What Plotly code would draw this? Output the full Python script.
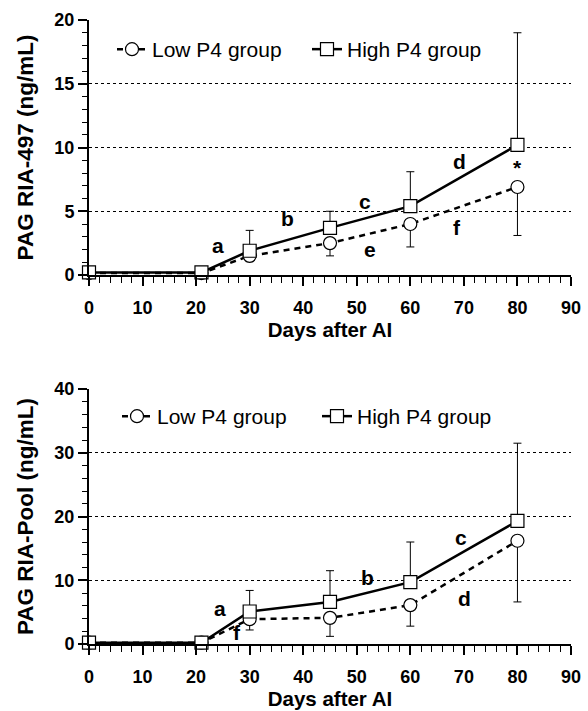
import plotly.graph_objects as go

# ---------------- data ----------------
days = [0, 21, 30, 45, 60, 80]

# top panel: PAG RIA-497
low497 = [0.15, 0.15, 1.5, 2.5, 4.0, 6.9]
low497_sd = [0, 0, 0.45, 1.0, 1.8, 3.8]
high497 = [0.2, 0.2, 1.9, 3.7, 5.4, 10.2]
high497_sd = [0, 0.3, 1.6, 1.3, 2.7, 8.8]

# bottom panel: PAG RIA-Pool
lowPool = [0.2, 0.2, 3.9, 4.1, 6.1, 16.2]
lowPool_sd = [0, 0, 1.7, 2.9, 3.3, 9.6]
highPool = [0.2, 0.2, 5.1, 6.6, 9.7, 19.3]
highPool_sd = [0, 0.3, 3.3, 4.9, 6.3, 12.2]

# significance letters
top_labels = ["a", "b", "c", "d", "e", "f", "*"]
top_lx = [24, 37, 51.5, 69.2, 52.4, 68.8, 80]
top_ly = [2.3, 4.4, 5.8, 8.9, 2.0, 3.7, 8.4]
bot_labels = ["a", "f", "b", "c", "d"]
bot_lx = [24.4, 27.6, 52, 69.5, 70.1]
bot_ly = [5.6, 1.8, 10.4, 16.7, 7.1]

W, H = 588, 711
FONT = "Liberation Sans, Arial, sans-serif"

fig = go.Figure()

def add_panel(low, low_sd, high, high_sd, xa, ya, leg):
    zeros = [0] * len(days)
    fig.add_trace(go.Scatter(
        x=days, y=low, mode="lines+markers", name="Low P4 group",
        xaxis=xa, yaxis=ya, legend=leg, cliponaxis=False,
        line=dict(color="black", width=2.5, dash="6px,5px"),
        marker=dict(symbol="circle", size=13, color="white",
                    line=dict(color="black", width=1.2)),
        error_y=dict(type="data", symmetric=False, array=zeros,
                     arrayminus=low_sd, color="black", thickness=1, width=4),
    ))
    fig.add_trace(go.Scatter(
        x=days, y=high, mode="lines+markers", name="High P4 group",
        xaxis=xa, yaxis=ya, legend=leg, cliponaxis=False,
        line=dict(color="black", width=2.5),
        marker=dict(symbol="square", size=13, color="white",
                    line=dict(color="black", width=1.2)),
        error_y=dict(type="data", symmetric=False, array=high_sd,
                     arrayminus=zeros, color="black", thickness=1, width=4),
    ))

add_panel(low497, low497_sd, high497, high497_sd, "x", "y", "legend")
add_panel(lowPool, lowPool_sd, highPool, highPool_sd, "x2", "y2", "legend2")

xdom = [89 / W, 571 / W]
ydom_top = [1 - 275 / H, 1 - 20 / H]
ydom_bot = [1 - 644 / H, 1 - 389 / H]

tickfont = dict(family=FONT, size=18, color="black", weight="bold")
titlefont = dict(family=FONT, size=20.5, color="black", weight="bold")
ytitlefont = dict(family=FONT, size=22.5, color="black", weight="bold")

def xaxis_cfg(anchor):
    return dict(
        domain=xdom, anchor=anchor, range=[0, 90], dtick=10, tick0=0,
        automargin=False,
        showline=True, linecolor="black", linewidth=2, showgrid=False,
        zeroline=False, ticks="outside", ticklen=9, tickwidth=1.6,
        tickcolor="black", tickfont=tickfont, ticklabelstandoff=6,
        minor=dict(dtick=2, ticks="outside", ticklen=6, tickwidth=1.4,
                   tickcolor="black", showgrid=False),
        title=dict(text="Days after AI", font=titlefont, standoff=6),
    )

def yaxis_cfg(anchor, dom, rng, dtick, mdtick, title):
    return dict(
        domain=dom, anchor=anchor, range=rng, dtick=dtick, tick0=0,
        automargin=False,
        showline=True, linecolor="black", linewidth=2,
        showgrid=True, gridcolor="black", gridwidth=1, griddash="dot",
        zeroline=False, ticks="outside", ticklen=9, tickwidth=1.6,
        tickcolor="black", tickfont=tickfont, ticklabelstandoff=0,
        minor=dict(dtick=mdtick, ticks="outside", ticklen=5, tickwidth=1.4,
                   tickcolor="black", showgrid=False),
        title=dict(text=title, font=ytitlefont, standoff=14),
    )

annotations = []
for t, x, y in zip(top_labels, top_lx, top_ly):
    annotations.append(dict(text=t, x=x, y=y, xref="x", yref="y",
                            showarrow=False,
                            font=dict(family=FONT, size=21, color="black",
                                      weight="bold")))
for t, x, y in zip(bot_labels, bot_lx, bot_ly):
    annotations.append(dict(text=t, x=x, y=y, xref="x2", yref="y2",
                            showarrow=False,
                            font=dict(family=FONT, size=21, color="black",
                                      weight="bold")))

legfont = dict(family=FONT, size=21, color="black")
fig.update_layout(
    width=W, height=H,
    margin=dict(l=0, r=0, t=0, b=0, autoexpand=False),
    paper_bgcolor="white", plot_bgcolor="white",
    xaxis=xaxis_cfg("y"),
    yaxis=yaxis_cfg("x", ydom_top, [0, 20], 5, 1, "PAG RIA-497 (ng/mL)"),
    xaxis2=xaxis_cfg("y2"),
    yaxis2=yaxis_cfg("x2", ydom_bot, [0, 40], 10, 2, "PAG RIA-Pool (ng/mL)"),
    legend=dict(orientation="h", x=112 / W, y=1 - 29 / H, xanchor="left",
                yanchor="top", font=legfont, bgcolor="rgba(0,0,0,0)",
                entrywidth=150, entrywidthmode="pixels", itemwidth=30,
                tracegroupgap=0),
    legend2=dict(orientation="h", x=117 / W, y=1 - 396 / H, xanchor="left",
                 yanchor="top", font=legfont, bgcolor="rgba(0,0,0,0)",
                 entrywidth=155, entrywidthmode="pixels", itemwidth=30,
                 tracegroupgap=0),
    annotations=annotations,
    showlegend=True,
)

fig.write_html("out.html")
